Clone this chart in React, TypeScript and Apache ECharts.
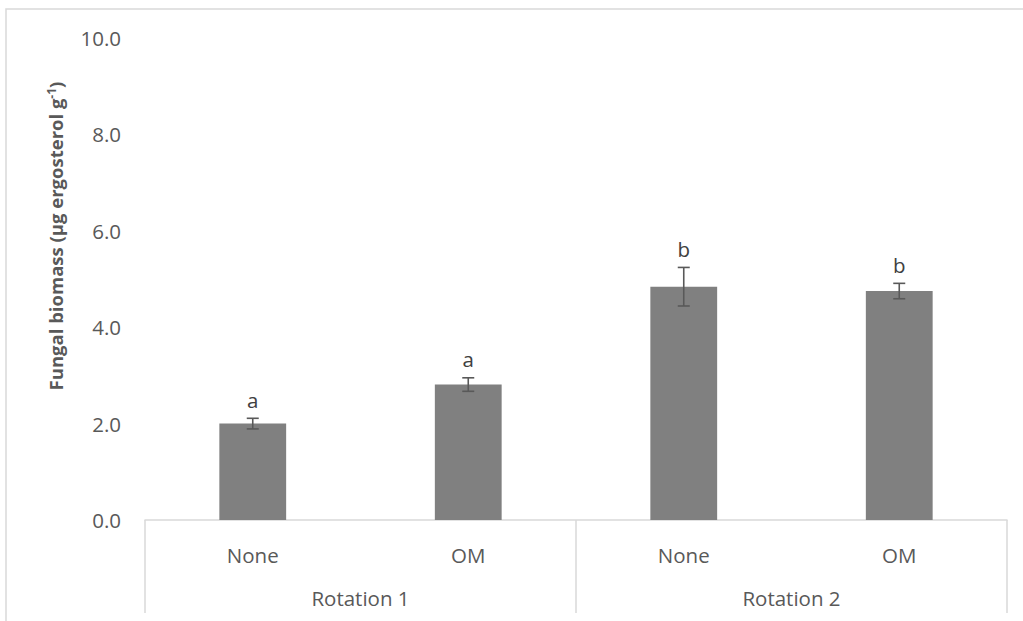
import React, { useEffect, useRef } from "react";
import * as echarts from "echarts";

const treatments = ["None", "OM", "None", "OM"];
const rotations = ["Rotation 1", "Rotation 2"];
const values = [2.0, 2.81, 4.84, 4.75];
const errors = [0.11, 0.14, 0.4, 0.16];
const letters = ["a", "a", "b", "b"];
const yTicks = { min: 0, max: 10, interval: 2 };

const FONT = "'Open Sans', 'Noto Sans', sans-serif";
const TEXT = "#595959";
const LINE = "#d9d9d9";
const FS = 20.5;

export default function App() {
  const ref = useRef<HTMLDivElement>(null);
  useEffect(() => {
    if (!ref.current) return;
    const chart = echarts.init(ref.current, null, { renderer: "svg" });
    chart.setOption({
      animation: false,
      backgroundColor: "#fff",
      grid: { left: 145, right: 16, top: 38, bottom: 101, containLabel: false },
      xAxis: [
        {
          type: "category",
          data: treatments,
          position: "bottom",
          axisLine: { show: true, lineStyle: { color: LINE, width: 1.5 } },
          axisTick: { show: false },
          axisLabel: { color: TEXT, fontSize: FS, fontFamily: FONT, margin: 24 },
        },
        {
          type: "category",
          data: rotations,
          position: "bottom",
          axisLine: { show: false },
          axisTick: { show: true, length: 93, lineStyle: { color: LINE, width: 1.5 } },
          axisLabel: { color: TEXT, fontSize: FS, fontFamily: FONT, margin: 67 },
        },
      ],
      yAxis: {
        type: "value",
        min: yTicks.min,
        max: yTicks.max,
        interval: yTicks.interval,
        axisLine: { show: false },
        axisTick: { show: false },
        splitLine: { show: false },
        axisLabel: {
          color: TEXT,
          fontSize: FS,
          fontFamily: FONT,
          margin: 24,
          formatter: (v: number) => v.toFixed(1),
        },
      },
      graphic: [
        {
          type: "rect",
          shape: { x: 6, y: 9, width: 1200, height: 800 },
          style: { fill: "none", stroke: LINE, lineWidth: 1.5 },
          silent: true,
          z: -1,
        },
        {
          type: "text",
          x: 55,
          y: 236,
          rotation: Math.PI / 2,
          style: {
            text: "{m|Fungal biomass (µg ergosterol g}{s|-1}{m|)}",
            align: "center",
            verticalAlign: "middle",
            rich: {
              m: { fontSize: 18.5, fontWeight: "bold", fontFamily: FONT, fill: TEXT },
              s: { fontSize: 12, fontWeight: "bold", fontFamily: FONT, fill: TEXT, verticalAlign: "top" },
            },
          },
        },
      ],
      series: [
        {
          type: "bar",
          data: values,
          barWidth: "31%",
          itemStyle: { color: "#808080" },
          xAxisIndex: 0,
        },
        {
          type: "custom",
          xAxisIndex: 0,
          data: values.map((v, i) => [i, v, errors[i]]),
          z: 5,
          renderItem: (params: any, api: any) => {
            const i = api.value(0);
            const v = api.value(1);
            const e = api.value(2);
            const top = api.coord([i, v + e]);
            const bot = api.coord([i, v - e]);
            const cap = 6;
            const st = { stroke: "#595959", lineWidth: 1.6 };
            return {
              type: "group",
              children: [
                { type: "line", shape: { x1: top[0], y1: top[1], x2: bot[0], y2: bot[1] }, style: st },
                { type: "line", shape: { x1: top[0] - cap, y1: top[1], x2: top[0] + cap, y2: top[1] }, style: st },
                { type: "line", shape: { x1: bot[0] - cap, y1: bot[1], x2: bot[0] + cap, y2: bot[1] }, style: st },
                {
                  type: "text",
                  x: top[0],
                  y: top[1] - 8,
                  style: {
                    text: letters[params.dataIndex],
                    align: "center",
                    verticalAlign: "bottom",
                    fontSize: FS,
                    fontFamily: FONT,
                    fill: "#404040",
                  },
                },
              ],
            };
          },
        },
      ],
    });
    return () => chart.dispose();
  }, []);
  return (
    <div
      ref={ref}
      style={{ position: "fixed", left: 0, top: 0, width: 1023, height: 621 }}
    />
  );
}
